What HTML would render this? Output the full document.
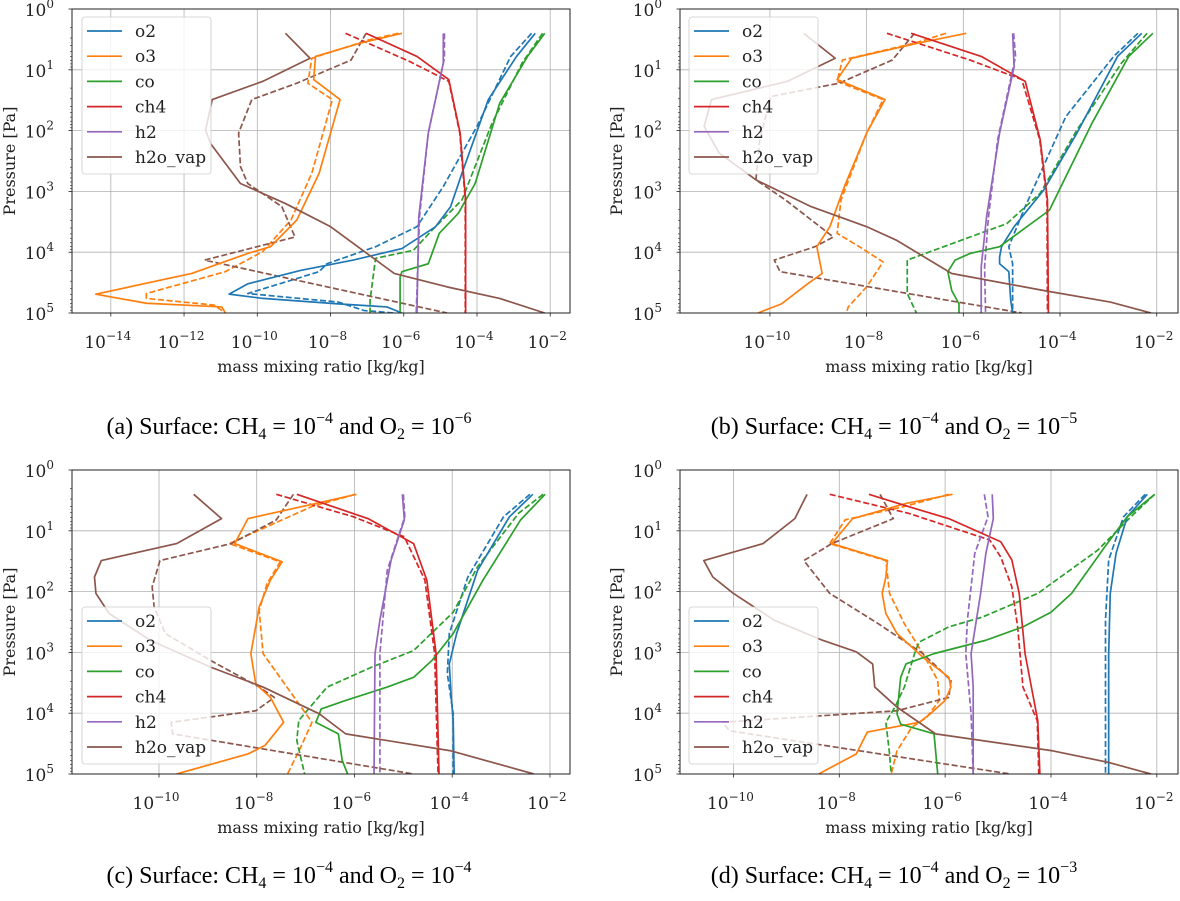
<!DOCTYPE html>
<html><head><meta charset="utf-8"><style>
html,body{margin:0;padding:0;background:#fff;}
#wrap{position:relative;width:1180px;height:901px;overflow:hidden;}
svg text{font-family:"DejaVu Serif","Liberation Serif",serif;}
.cap{position:absolute;font-family:"Liberation Serif",serif;font-size:24px;white-space:nowrap;transform:translateX(-50%);}
.cap sub{font-size:16px;vertical-align:-5px;line-height:0}
.cap sup{font-size:16px;vertical-align:11px;line-height:0}
</style></head><body>
<div id="wrap">
<svg id="fig" width="1180" height="901" xmlns="http://www.w3.org/2000/svg"></svg>
<div class="cap" style="left:289px;top:414px">(a) Surface: CH<sub>4</sub> = 10<sup>−4</sup> and O<sub>2</sub> = 10<sup>−6</sup></div>
<div class="cap" style="left:894px;top:414px">(b) Surface: CH<sub>4</sub> = 10<sup>−4</sup> and O<sub>2</sub> = 10<sup>−5</sup></div>
<div class="cap" style="left:289px;top:863px">(c) Surface: CH<sub>4</sub> = 10<sup>−4</sup> and O<sub>2</sub> = 10<sup>−4</sup></div>
<div class="cap" style="left:894px;top:863px">(d) Surface: CH<sub>4</sub> = 10<sup>−4</sup> and O<sub>2</sub> = 10<sup>−3</sup></div>
</div>
<script>
// Each array: [log10 pressure (Pa), log10 mass mixing ratio]
// Panel a
const a_o2 = [[.40,-2.41],[.78,-2.92],[1.49,-3.69],[2.70,-4.41],[3.25,-4.72],[3.58,-5.13],[3.94,-6.05],[4.13,-7.38],[4.30,-8.82],[4.52,-10.26],[4.69,-10.77],[4.76,-9.85],[4.85,-7.79],[4.90,-6.46],[5,-6.05]];
const a_o2d = [[.40,-2.51],[.78,-3.08],[1.93,-4.0],[2.92,-4.92],[3.58,-5.64],[3.91,-6.77],[4.19,-8.1],[4.32,-8.31],[4.68,-10.26],[4.82,-7.79],[4.96,-7.08],[5,-6.26]];
const a_co = [[.40,-2.15],[.78,-2.62],[1.55,-3.38],[2.87,-4.05],[3.36,-4.51],[3.69,-5.03],[4.19,-5.33],[4.32,-6.05],[4.41,-6.1],[5,-6.1]];
const a_cod = [[.40,-2.21],[.89,-2.77],[1.88,-3.59],[3.14,-4.41],[3.64,-5.23],[3.97,-5.74],[4.10,-6.77],[4.79,-6.92],[5,-6.92]];
const a_ch4 = [[.40,-7.03],[.78,-5.64],[1.16,-4.77],[2.04,-4.46],[3.14,-4.31],[5,-4.31]];
const a_ch4d = [[.40,-7.59],[.86,-5.85],[1.19,-4.77],[2.04,-4.47],[3.14,-4.32],[5,-4.32]];
const a_h2 = [[.40,-4.92],[.89,-4.92],[2.04,-5.33],[3.42,-5.59],[5,-5.64]];
const a_h2d = [[.40,-4.89],[.81,-4.89],[2.04,-5.33],[3.42,-5.57],[5,-5.66]];
const a_o3 = [[.40,-6.05],[.56,-7.18],[.78,-8.41],[1.16,-8.46],[1.49,-7.74],[2.70,-8.31],[3.47,-8.92],[3.91,-9.64],[4.02,-10.26],[4.35,-11.79],[4.69,-14.41],[4.84,-13.03],[4.90,-10.97],[5,-10.87]];
const a_o3d = [[.40,-6.15],[.51,-6.97],[.81,-8.51],[1.22,-8.62],[1.49,-7.95],[2.70,-8.51],[3.47,-9.08],[3.99,-9.85],[4.32,-10.87],[4.68,-13.03],[4.76,-13.03],[4.87,-11.18],[5,-10.87]];
const a_h2o = [[.40,-9.23],[.81,-8.56],[1.19,-9.85],[1.49,-11.23],[1.99,-11.41],[2.21,-11.28],[2.87,-10.46],[3.20,-9.23],[3.58,-8.0],[4.35,-6.26],[4.57,-4.82],[4.76,-3.38],[5,-2.15]];
const a_h2od = [[.40,-7.03],[.84,-7.44],[1.22,-8.92],[1.49,-10.15],[2.04,-10.51],[2.59,-10.46],[2.87,-10.26],[3.25,-9.33],[3.75,-8.97],[4.13,-11.44],[5,-4.82]];
// Panel b
const b_o2 = [[.40,-2.31],[.78,-2.81],[2.04,-3.65],[2.98,-4.34],[3.58,-4.95],[3.91,-5.21],[4.08,-5.25],[4.19,-5.25],[4.32,-5.06],[4.79,-5.02],[5,-4.98]];
const b_o2d = [[.40,-2.39],[.78,-2.89],[1.77,-3.88],[3.25,-4.72],[3.91,-5.06],[4.19,-4.98],[5,-4.98]];
const b_co = [[.40,-2.08],[.78,-2.58],[1.88,-3.34],[3.31,-4.22],[3.91,-5.25],[4.02,-5.86],[4.13,-6.17],[4.32,-6.32],[4.63,-6.24],[4.85,-6.09],[5,-6.09]];
const b_cod = [[.40,-2.2],[.89,-2.73],[1.99,-3.65],[3.03,-4.41],[3.53,-5.1],[3.75,-5.86],[4.13,-7.16],[4.68,-7.16],[5,-6.97]];
const b_ch4 = [[.40,-7.08],[.78,-5.63],[1.19,-4.72],[2.15,-4.41],[3.14,-4.26],[5,-4.24]];
const b_ch4d = [[.40,-7.58],[.84,-5.86],[1.16,-4.79],[2.15,-4.42],[3.14,-4.27],[5,-4.26]];
const b_h2 = [[.40,-4.98],[.95,-4.95],[2.04,-5.25],[3.42,-5.52],[4.24,-5.63],[5,-5.63]];
const b_h2d = [[.40,-4.96],[.78,-4.92],[2.15,-5.29],[3.42,-5.48],[4.24,-5.56],[5,-5.54]];
const b_o3 = [[.40,-5.94],[.56,-6.93],[.81,-8.31],[1.16,-8.61],[1.49,-7.62],[2.04,-8.0],[2.92,-8.46],[3.58,-8.76],[3.91,-9.03],[4.35,-8.92],[4.52,-9.22],[4.85,-9.76],[5,-10.25]];
const b_o3d = [[.40,-6.36],[.56,-7.0],[.84,-8.5],[1.19,-8.61],[1.49,-7.66],[2.04,-8.0],[3.14,-8.53],[3.69,-8.61],[3.91,-8.15],[4.16,-7.66],[4.57,-8.0],[4.90,-8.38],[5,-8.42]];
const b_h2o = [[.40,-9.3],[.81,-8.65],[1.19,-9.64],[1.49,-11.21],[1.93,-11.36],[2.37,-11.05],[2.81,-10.29],[3.25,-9.15],[3.58,-8.0],[3.80,-7.39],[4.35,-6.24],[4.63,-4.34],[4.82,-2.96],[5,-2.12]];
const b_h2od = [[.40,-7.01],[.84,-7.47],[1.22,-8.57],[1.44,-9.98],[2.15,-10.21],[2.81,-10.29],[3.14,-9.68],[3.75,-8.69],[3.91,-9.07],[4.13,-9.91],[4.32,-9.79],[5,-4.79]];
// Panel c
const c_o2 = [[.40,-2.35],[.77,-2.83],[1.65,-3.48],[2.69,-3.91],[3.19,-4.06],[3.74,-4.02],[4.12,-3.98],[5,-3.96]];
const c_o2d = [[.40,-2.41],[.77,-2.95],[1.76,-3.68],[2.69,-4.06],[3.35,-4.1],[4.01,-3.98],[5,-3.98]];
const c_co = [[.40,-2.1],[.82,-2.6],[1.81,-3.37],[2.69,-3.98],[3.13,-4.41],[3.41,-4.79],[3.57,-5.33],[3.79,-6.18],[3.93,-6.68],[4.15,-6.79],[4.34,-6.33],[4.78,-6.25],[5,-6.14]];
const c_cod = [[.40,-2.14],[.71,-2.64],[1.59,-3.48],[2.34,-3.98],[2.97,-4.79],[3.24,-5.64],[3.57,-6.56],[4.12,-7.14],[4.45,-7.18],[5,-7.02]];
const c_ch4 = [[.40,-7.18],[.80,-5.72],[1.21,-4.79],[1.81,-4.52],[3.02,-4.33],[5,-4.27]];
const c_ch4d = [[.40,-7.6],[.77,-6.02],[1.10,-4.98],[1.81,-4.56],[3.02,-4.36],[5,-4.29]];
const c_h2 = [[.40,-5.02],[.82,-4.98],[1.48,-5.25],[2.47,-5.48],[3.02,-5.58],[5,-5.6]];
const c_h2d = [[.40,-5.0],[.77,-4.97],[1.65,-5.33],[3.02,-5.48],[5,-5.48]];
const c_o3 = [[.40,-5.96],[.55,-6.79],[.80,-8.18],[1.21,-8.45],[1.51,-7.48],[1.81,-7.72],[2.25,-7.95],[3.02,-8.12],[3.52,-8.02],[3.74,-7.72],[4.15,-7.45],[4.53,-7.83],[4.67,-8.18],[5,-9.64]];
const c_o3d = [[.40,-5.98],[.60,-6.87],[1.21,-8.56],[1.51,-7.52],[1.87,-7.79],[2.31,-7.95],[3.02,-7.87],[3.46,-7.48],[4.15,-6.87],[4.56,-7.1],[5,-7.37]];
const c_h2o = [[.40,-9.29],[.80,-8.72],[1.21,-9.64],[1.49,-11.18],[1.76,-11.32],[2.03,-11.29],[2.36,-11.02],[2.80,-10.18],[3.24,-8.95],[3.57,-7.87],[4.01,-6.72],[4.34,-6.18],[4.62,-4.02],[5,-2.33]];
const c_h2od = [[.40,-7.25],[.82,-7.6],[1.21,-8.52],[1.49,-9.98],[1.92,-10.14],[2.25,-10.1],[2.69,-9.87],[3.13,-8.95],[3.57,-7.95],[3.74,-7.64],[3.96,-8.02],[4.15,-9.75],[4.34,-9.72],[5,-4.79]];
// Panel d
const d_o2 = [[.40,-2.18],[.77,-2.56],[1.37,-2.77],[2.03,-2.88],[3.02,-2.91],[5,-2.91]];
const d_o2d = [[.40,-2.22],[.77,-2.63],[1.48,-2.91],[2.47,-2.97],[5,-2.97]];
const d_co = [[.40,-2.04],[.77,-2.56],[1.26,-2.98],[2.03,-3.61],[2.34,-4.0],[2.58,-4.53],[2.80,-5.23],[3.02,-6.21],[3.19,-6.74],[3.41,-6.84],[4.01,-6.91],[4.18,-6.84],[4.34,-6.21],[5,-6.14]];
const d_cod = [[.40,-2.04],[.77,-2.49],[1.32,-3.12],[2.03,-4.25],[2.42,-5.3],[2.58,-5.93],[2.83,-6.49],[2.97,-6.56],[3.57,-6.77],[3.90,-6.95],[4.15,-7.12],[4.67,-7.05],[5,-7.02]];
const d_ch4 = [[.40,-7.44],[.60,-6.7],[.80,-5.93],[1.18,-4.95],[1.48,-4.74],[2.03,-4.6],[3.02,-4.49],[4.12,-4.25],[5,-4.21]];
const d_ch4d = [[.40,-8.18],[.71,-6.7],[1.15,-5.16],[1.43,-4.95],[1.92,-4.74],[2.58,-4.63],[3.57,-4.53],[4.12,-4.26],[5,-4.23]];
const d_h2 = [[.40,-5.11],[.80,-5.09],[1.37,-5.23],[2.03,-5.33],[3.02,-5.51],[3.57,-5.47],[5,-5.47]];
const d_h2d = [[.40,-5.26],[.77,-5.19],[1.37,-5.44],[2.47,-5.58],[3.02,-5.61],[4.01,-5.51],[5,-5.47]];
const d_o3 = [[.40,-5.86],[.55,-6.74],[.80,-7.75],[1.21,-8.14],[1.49,-7.09],[1.76,-7.12],[2.03,-7.19],[2.36,-7.12],[2.69,-6.91],[3.08,-6.42],[3.41,-5.93],[3.57,-5.89],[3.79,-6.0],[4.01,-6.28],[4.15,-6.49],[4.31,-7.47],[4.67,-7.68],[5,-8.39]];
const d_o3d = [[.40,-5.93],[.60,-6.77],[.82,-7.89],[1.21,-8.18],[1.49,-7.12],[2.03,-7.05],[2.53,-6.77],[3.02,-6.42],[3.46,-6.14],[3.79,-6.11],[4.07,-6.35],[4.23,-6.63],[4.62,-6.91],[5,-7.02]];
const d_h2o = [[.40,-8.61],[.80,-8.84],[1.21,-9.44],[1.49,-10.56],[1.76,-10.39],[2.03,-10.0],[2.47,-9.23],[2.80,-8.32],[2.99,-7.68],[3.19,-7.37],[3.57,-7.33],[3.90,-6.91],[4.34,-6.18],[4.62,-3.96],[4.81,-2.91],[5,-2.11]];
const d_h2od = [[.40,-7.23],[.80,-6.98],[1.21,-8.14],[1.49,-8.67],[2.03,-8.18],[2.53,-7.26],[3.02,-6.42],[3.46,-5.89],[3.74,-5.93],[3.96,-6.91],[4.15,-10.21],[4.29,-10.07],[5,-4.77]];

const speciesNames = ['o2','o3','co','ch4','h2','h2o_vap'];
const speciesColors = ['#1f77b4','#ff7f0e','#2ca02c','#d62728','#9467bd','#8c564b'];
const yTickExps = [0,1,2,3,4,5];
const xTicksA = [-14,-12,-10,-8,-6,-4,-2];
const xTicksB = [-10,-8,-6,-4,-2];

const panels = [
 {id:'a',L:72,R:570,T:9,B:313,xmin:-15.06,xmax:-1.46,ticks:xTicksA,leg:[82,17],ylab:9,
  solid:[a_o2,a_o3,a_co,a_ch4,a_h2,a_h2o],dash:[a_o2d,a_o3d,a_cod,a_ch4d,a_h2d,a_h2od]},
 {id:'b',L:680,R:1178,T:9,B:313,xmin:-11.86,xmax:-1.56,ticks:xTicksB,leg:[689,17],ylab:616,
  solid:[b_o2,b_o3,b_co,b_ch4,b_h2,b_h2o],dash:[b_o2d,b_o3d,b_cod,b_ch4d,b_h2d,b_h2od]},
 {id:'c',L:72,R:570,T:470,B:774,xmin:-11.78,xmax:-1.59,ticks:xTicksB,leg:[82,607],ylab:9,
  solid:[c_o2,c_o3,c_co,c_ch4,c_h2,c_h2o],dash:[c_o2d,c_o3d,c_cod,c_ch4d,c_h2d,c_h2od]},
 {id:'d',L:680,R:1178,T:470,B:774,xmin:-11.01,xmax:-1.6,ticks:xTicksB,leg:[689,607],ylab:616,
  solid:[d_o2,d_o3,d_co,d_ch4,d_h2,d_h2o],dash:[d_o2d,d_o3d,d_cod,d_ch4d,d_h2d,d_h2od]}
];

const NS='http://www.w3.org/2000/svg';
const svg=document.getElementById('fig');
function mk(tag,attrs,parent){const e=document.createElementNS(NS,tag);for(const k in attrs)e.setAttribute(k,attrs[k]);(parent||svg).appendChild(e);return e;}
function pow10Text(parent,x,y,exp,anchor,name){
  const t=mk('text',{x:x,y:y,'font-size':17,'text-anchor':anchor,fill:'#222'},parent);
  
  
  t.appendChild(document.createTextNode('10'));
  const s=mk('tspan',{dy:-8,'font-size':12},t);
  s.textContent=(exp<0?'−':'')+Math.abs(exp);
  return t;
}

panels.forEach(p=>{
  const g=mk('g',{});
  
  
  const sx=v=>p.L+(v-p.xmin)/(p.xmax-p.xmin)*(p.R-p.L);
  const sy=v=>p.T+v/5*(p.B-p.T);
  p.ticks.forEach(t=>{const l=mk('line',{x1:sx(t),x2:sx(t),y1:p.T,y2:p.B,stroke:'#b0b0b0','stroke-width':0.8},g);
    
    });
  yTickExps.forEach(e=>{const l=mk('line',{x1:p.L,x2:p.R,y1:sy(e),y2:sy(e),stroke:'#b0b0b0','stroke-width':0.8},g);
    
    });
  const cp=mk('clipPath',{id:'clip'+p.id},g);
  mk('rect',{x:p.L,y:p.T,width:p.R-p.L,height:p.B-p.T},cp);
  const lg=mk('g',{'clip-path':'url(#clip'+p.id+')'},g);
  
  
  const drawLine=(arr,i,dashed)=>{
    const d=arr.map((pt,k)=>(k?'L':'M')+sx(pt[1]).toFixed(2)+','+sy(pt[0]).toFixed(2)).join(' ');
    const path=mk('path',{d:d,fill:'none',stroke:speciesColors[i],'stroke-width':1.7,'stroke-linejoin':'round'},lg);
    if(dashed)path.setAttribute('stroke-dasharray','6,2.6');
    
    
  };
  p.dash.forEach((arr,i)=>drawLine(arr,i,true));
  p.solid.forEach((arr,i)=>drawLine(arr,i,false));
  const fr=mk('rect',{x:p.L,y:p.T,width:p.R-p.L,height:p.B-p.T,fill:'none',stroke:'#222','stroke-width':1},g);
  
  
  p.ticks.forEach(t=>{
    mk('line',{x1:sx(t),x2:sx(t),y1:p.B,y2:p.B+3.5,stroke:'#222','stroke-width':0.8},g);
    pow10Text(g,sx(t)-3,p.B+35,t,'middle','x-tick-label');
  });
  yTickExps.forEach(e=>{
    mk('line',{x1:p.L-3.5,x2:p.L,y1:sy(e),y2:sy(e),stroke:'#222','stroke-width':0.8},g);
    pow10Text(g,p.L-18,sy(e)+7,e,'end','y-tick-label');
    if(e<5){for(let m=2;m<10;m++){const yy=sy(e+Math.log10(m));
      mk('line',{x1:p.L-2,x2:p.L,y1:yy,y2:yy,stroke:'#222','stroke-width':0.6},g);}}
  });
  const xl=mk('text',{x:(p.L+p.R)/2,y:p.B+59,'font-size':16,'text-anchor':'middle',fill:'#222'},g);
  xl.textContent='mass mixing ratio [kg/kg]';
  
  
  const yl=mk('text',{x:0,y:0,'font-size':16,'text-anchor':'middle',fill:'#222',transform:'translate('+(p.ylab+6)+','+((p.T+p.B)/2)+') rotate(-90)'},g);
  yl.textContent='Pressure [Pa]';
  
  
  const lx=p.leg[0],ly=p.leg[1];
  const leg=mk('g',{},g);
  
  
  mk('rect',{x:lx,y:ly,width:129,height:157,rx:3,fill:'#fff','fill-opacity':0.8,stroke:'#ccc','stroke-width':0.8},leg);
  speciesNames.forEach((n,i)=>{
    const e=mk('g',{},leg);
    
    
    const yy=ly+14+i*25.2;
    mk('line',{x1:lx+5,x2:lx+40,y1:yy,y2:yy,stroke:speciesColors[i],'stroke-width':1.7},e);
    const t=mk('text',{x:lx+53,y:yy+6,'font-size':17,fill:'#222'},e);
    t.textContent=n;
  });
});
</script>
</body></html>
